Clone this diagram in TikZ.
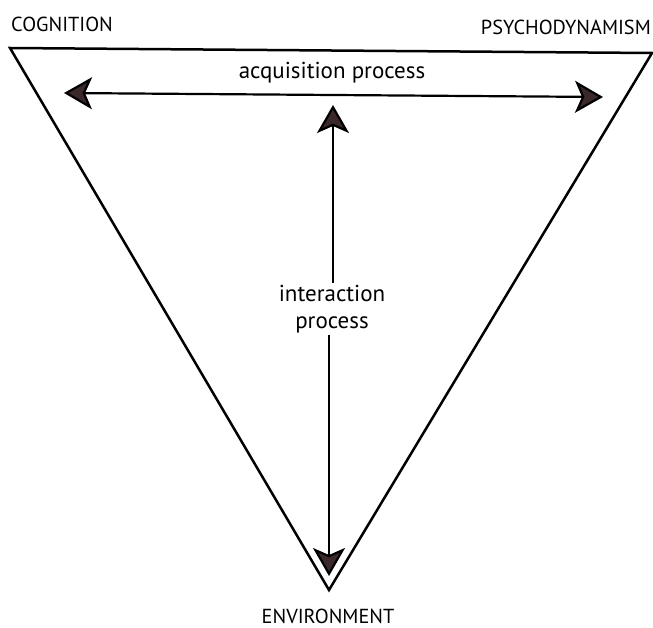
\documentclass[tikz,border=0pt]{standalone}
\usepackage{fontspec}
\setmainfont{PT Sans}
\usetikzlibrary{arrows.meta}
\definecolor{headfill}{RGB}{58,40,42}
\tikzset{
  edge/.style={line width=2.5pt, black},
  biarrow/.style={line width=2.2pt, black, {Stealth[length=28pt,width=32pt,inset=7pt,fill=headfill]}-{Stealth[length=28pt,width=32pt,inset=7pt,fill=headfill]}},
  onearrow/.style={line width=2.2pt, black, -{Stealth[length=28pt,width=32pt,inset=7pt,fill=headfill]}},
  lbl/.style={font=\fontsize{20.3}{22}\selectfont, inner sep=0pt},
  txt/.style={font=\fontsize{23}{27}\selectfont, align=center, inner sep=2pt}
}
\begin{document}
\begin{tikzpicture}[x=1pt,y=-1pt]
\useasboundingbox (0,0) rectangle (653,628);
\coordinate (cog) at (10,48);
\coordinate (psy) at (652,53);
\coordinate (env) at (329,590);
\draw[edge, line join=miter] (cog) -- (psy) -- (env) -- cycle;
\node[lbl, anchor=base west] (lcog) at (11,32) {COGNITION};
\node[lbl, anchor=base east] (lpsy) at (651,35) {PSYCHODYNAMISM};
\node[lbl, anchor=base] (lenv) at (328,623.5) {ENVIRONMENT};
\coordinate (aL) at (64,93);
\coordinate (aR) at (603,97);
\draw[biarrow] (aL) -- (aR);
\node[txt] (acq) at (332,73) {acquisition process};
\node[txt] (ip) at (332,309) {interaction\\process};
\coordinate (vT) at (333,105);
\coordinate (vB) at (329,576);
\draw[onearrow] (ip.north -| vT) -- (vT);
\draw[onearrow] (ip.south -| vB) -- (vB);
\end{tikzpicture}
\end{document}
